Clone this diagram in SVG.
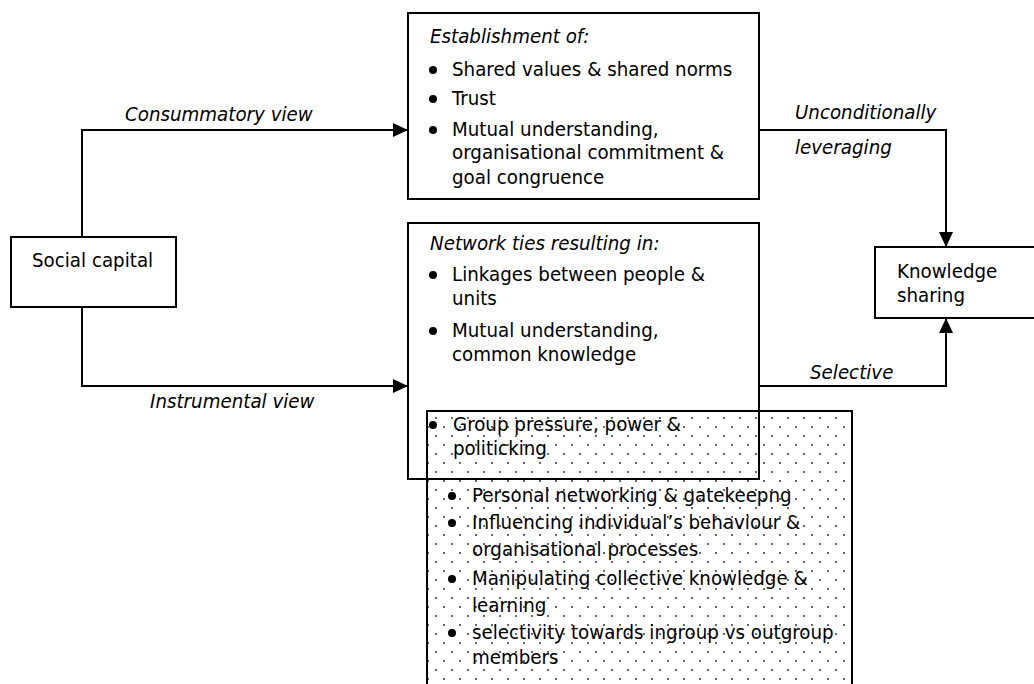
<svg xmlns="http://www.w3.org/2000/svg" width="1034" height="684" viewBox="0 0 1034 684">
<style>
  text { font-family: "DejaVu Sans Condensed", "DejaVu Sans", sans-serif; font-size: 20.3px; fill: #000; }
  .it { font-style: italic; }
  .box { fill: none; stroke: #000; stroke-width: 2; }
  .wbox { fill: #fff; stroke: #000; stroke-width: 2; }
  .conn { fill: none; stroke: #000; stroke-width: 2; }
  .bul { fill: #000; }
</style>
<defs>
  <marker id="arr" markerUnits="userSpaceOnUse" markerWidth="15" markerHeight="14" refX="15" refY="7" orient="auto">
    <path d="M0,0 L15,7 L0,14 z" fill="#000"/>
  </marker>
  <pattern id="dots" patternUnits="userSpaceOnUse" x="0" y="0" width="16" height="18">
    <circle cx="4" cy="4" r="0.9" fill="#222"/>
    <circle cx="12" cy="13" r="0.9" fill="#222"/>
  </pattern>
</defs>
<rect width="1034" height="684" fill="#fff"/>

<g id="connectors">
  <path class="conn" d="M82,237 V130 H408" marker-end="url(#arr)"/>
  <path class="conn" d="M82,307 V386 H408" marker-end="url(#arr)"/>
  <path class="conn" d="M759,130 H946 V247" marker-end="url(#arr)"/>
  <path class="conn" d="M759,386 H946 V318" marker-end="url(#arr)"/>
  <text class="it" x="125" y="121">Consummatory view</text>
  <text class="it" x="150" y="408">Instrumental view</text>
  <text class="it" x="795" y="119">Unconditionally</text>
  <text class="it" x="795" y="154">leveraging</text>
  <text class="it" x="810" y="379">Selective</text>
</g>

<g id="social-capital">
  <rect class="wbox" x="11" y="237" width="165" height="70"/>
  <text x="32" y="267">Social capital</text>
</g>

<g id="knowledge-sharing">
  <rect class="wbox" x="875" y="247" width="170" height="71"/>
  <text x="897" y="278">Knowledge</text>
  <text x="897" y="302">sharing</text>
</g>

<g id="establishment">
  <rect class="box" x="408" y="13" width="351" height="186"/>
  <text class="it" x="430" y="43">Establishment of:</text>
  <circle class="bul" cx="433" cy="70" r="4"/>
  <text x="452" y="76">Shared values &amp; shared norms</text>
  <circle class="bul" cx="433" cy="99" r="4"/>
  <text x="452" y="105">Trust</text>
  <circle class="bul" cx="433" cy="130" r="4"/>
  <text x="452" y="136">Mutual understanding,</text>
  <text x="452" y="159">organisational commitment &amp;</text>
  <text x="452" y="184">goal congruence</text>
</g>

<g id="power-politics">
  <rect x="427" y="411" width="425" height="290" fill="url(#dots)" stroke="#000" stroke-width="2"/>
  <circle class="bul" cx="433" cy="425" r="4"/>
  <text x="453" y="431">Group pressure, power &amp;</text>
  <text x="453" y="455">politicking</text>
  <circle class="bul" cx="452" cy="496" r="4"/>
  <text x="472" y="502">Personal networking &amp; gatekeepng</text>
  <circle class="bul" cx="452" cy="523" r="4"/>
  <text x="472" y="529">Influencing individual’s behaviour &amp;</text>
  <text x="472" y="556">organisational processes</text>
  <circle class="bul" cx="452" cy="579" r="4"/>
  <text x="472" y="585">Manipulating collective knowledge &amp;</text>
  <text x="472" y="612">learning</text>
  <circle class="bul" cx="452" cy="633" r="4"/>
  <text x="472" y="639">selectivity towards ingroup vs outgroup</text>
  <text x="472" y="664">members</text>
</g>

<g id="network-ties">
  <rect class="box" x="408" y="223" width="351" height="256"/>
  <text class="it" x="430" y="250">Network ties resulting in:</text>
  <circle class="bul" cx="433" cy="275" r="4"/>
  <text x="452" y="281">Linkages between people &amp;</text>
  <text x="452" y="305">units</text>
  <circle class="bul" cx="433" cy="331" r="4"/>
  <text x="452" y="337">Mutual understanding,</text>
  <text x="452" y="361">common knowledge</text>
</g>
</svg>
